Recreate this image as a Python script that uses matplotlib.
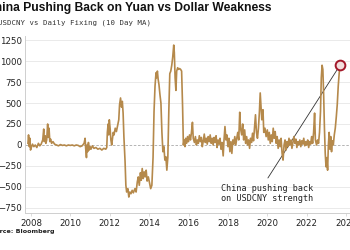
import matplotlib
matplotlib.use("Agg")
import matplotlib.pyplot as plt

# USDCNY vs daily fixing spread (10 day MA)
years = [
    2007.85, 2007.88, 2007.92, 2007.95, 2007.98, 2008.02, 2008.08, 2008.15, 2008.22, 2008.3,
    2008.38, 2008.45, 2008.52, 2008.6, 2008.65, 2008.68, 2008.72, 2008.76, 2008.8, 2008.85,
    2008.88, 2008.92, 2008.96, 2009.0, 2009.05, 2009.12, 2009.2, 2009.3, 2009.4, 2009.5,
    2009.6, 2009.7, 2009.8, 2009.9, 2010.0, 2010.1, 2010.2, 2010.3, 2010.4, 2010.5,
    2010.6, 2010.7, 2010.75, 2010.78, 2010.82, 2010.85, 2010.88, 2010.92, 2010.96, 2011.0,
    2011.05, 2011.12, 2011.2, 2011.3, 2011.4, 2011.5, 2011.6, 2011.7, 2011.8, 2011.85,
    2011.88, 2011.92, 2011.95, 2011.98, 2012.02, 2012.06, 2012.1, 2012.14, 2012.18, 2012.22,
    2012.28, 2012.34, 2012.4, 2012.46, 2012.5, 2012.55, 2012.6, 2012.64, 2012.68, 2012.72,
    2012.78, 2012.82, 2012.86, 2012.92, 2012.97, 2013.02, 2013.08, 2013.14, 2013.2, 2013.28,
    2013.34, 2013.4, 2013.45, 2013.5, 2013.56, 2013.6, 2013.65, 2013.7, 2013.75, 2013.8,
    2013.85, 2013.9, 2013.96, 2014.02, 2014.08, 2014.14, 2014.2, 2014.25, 2014.3, 2014.35,
    2014.38, 2014.42, 2014.46, 2014.5, 2014.55, 2014.6, 2014.65, 2014.7, 2014.75, 2014.8,
    2014.85, 2014.9, 2014.95, 2015.0, 2015.05, 2015.1, 2015.15, 2015.2, 2015.25, 2015.28,
    2015.32, 2015.36, 2015.4, 2015.45, 2015.5, 2015.55, 2015.6, 2015.65, 2015.7, 2015.74,
    2015.78, 2015.82, 2015.86, 2015.9, 2015.95, 2016.0, 2016.05, 2016.1, 2016.15, 2016.2,
    2016.24, 2016.3, 2016.35, 2016.4, 2016.45, 2016.5, 2016.55, 2016.6, 2016.65, 2016.7,
    2016.75, 2016.8, 2016.85, 2016.9, 2016.95, 2017.0, 2017.05, 2017.1, 2017.15, 2017.2,
    2017.25, 2017.3, 2017.35, 2017.4, 2017.45, 2017.5, 2017.55, 2017.6, 2017.65, 2017.7,
    2017.76, 2017.8, 2017.85, 2017.9, 2017.95, 2018.0, 2018.05, 2018.1, 2018.15, 2018.2,
    2018.25, 2018.3, 2018.35, 2018.4, 2018.45, 2018.5, 2018.55, 2018.6, 2018.64, 2018.7,
    2018.75, 2018.8, 2018.85, 2018.9, 2018.95, 2019.0, 2019.05, 2019.1, 2019.15, 2019.2,
    2019.25, 2019.3, 2019.35, 2019.4, 2019.45, 2019.5, 2019.55, 2019.6, 2019.64, 2019.68,
    2019.72, 2019.78, 2019.82, 2019.88, 2019.94, 2020.0, 2020.05, 2020.1, 2020.15, 2020.2,
    2020.25, 2020.3, 2020.35, 2020.4, 2020.45, 2020.5, 2020.55, 2020.6, 2020.65, 2020.7,
    2020.75, 2020.8, 2020.85, 2020.9, 2020.95, 2021.0, 2021.05, 2021.1, 2021.15, 2021.2,
    2021.25, 2021.3, 2021.35, 2021.4, 2021.45, 2021.5, 2021.55, 2021.6, 2021.65, 2021.7,
    2021.75, 2021.8, 2021.85, 2021.9, 2021.95, 2022.0, 2022.05, 2022.1, 2022.15, 2022.2,
    2022.25, 2022.3, 2022.35, 2022.4, 2022.44, 2022.5, 2022.55, 2022.6, 2022.65, 2022.7,
    2022.74, 2022.78, 2022.82, 2022.86, 2022.9, 2022.94, 2022.98, 2023.02, 2023.06, 2023.1,
    2023.14, 2023.18, 2023.22, 2023.26, 2023.3, 2023.35, 2023.4, 2023.45, 2023.5, 2023.55,
    2023.6, 2023.65, 2023.69,
]
spread = [
    20, 120, -20, 80, -60, -30, 10, -20, 0, -30,
    20, -10, 10, 60, 190, 40, 110, 20, 60, 250,
    90, 200, 40, 70, 20, 40, 10, 0, -10, 5,
    -5, 0, -10, 0, -5, 0, -10, 0, -5, -20,
    -10, 20, 80, -40, -150, 0, -80, 30, -60, -20,
    -50, -10, -40, -30, -50, -40, -60, -40, -50, -30,
    150, 250, 120, 300, 200, 60, 0, 80, 150, 120,
    200, 160, 230, 300, 480, 560, 450, 520, 380, 100,
    -200, -480, -560, -520, -620, -560, -580, -540, -570, -520,
    -560, -440, -380, -480, -330, -420, -280, -400, -320, -380,
    -300, -430, -380, -450, -520, -480, -150, 400, 700, 860,
    800, 880, 780, 720, 600, 500, 150, -80, -20, -180,
    -140, -300, -150, 400, 850, 880, 950, 1050, 1190, 1100,
    800, 650, 880, 920, 900, 910, 900, 880, 450, 0,
    60, -20, 80, 20, 100, 40, 120, 60, 150, 270,
    80, 30, 100, 0, 60, 20, 110, 40, 90, -20,
    50, 130, 30, 80, 10, 100, 40, 120, 20, 80,
    0, 90, 30, 110, -30, 60, 10, 80, -50, 30,
    -130, 50, 220, 60, 120, -20, 80, -80, 40, -100,
    60, 10, 100, 0, 80, 150, 60, 390, 200, 120,
    250, 60, 180, 20, 100, 0, 60, -40, 80, 30,
    140, 50, 200, 360, 150, 80, 200, 400, 620, 450,
    300, 420, 150, 200, 100, 180, 60, 150, 20, 120,
    40, 200, 80, 160, 20, 100, -40, 60, -20, 80,
    -100, -180, 0, 60, -60, 40, -20, 80, 0, 60,
    -40, 30, 100, 20, 70, -30, 40, 0, 60, -20,
    50, 10, 80, -10, 40, 0, 60, -30, 40, 10,
    100, 20, 150, 380, 60, 0, 60, 20, 150, 400,
    800, 950, 900, 600, 200, -100, -260, -150, -300, 0,
    150, -50, 100, -80, 50, 0, 120, 200, 330, 480,
    700, 860, 950,
]
y_ticks = [-750, -500, -250, 0, 250, 500, 750, 1000, 1250]
x_ticks = [2008, 2010, 2012, 2014, 2016, 2018, 2020, 2022, 2024]

W, H = 350, 250
fig = plt.figure(figsize=(3.5, 2.5), dpi=100)
ax = fig.add_axes([25 / W, 1 - 213 / H, 330 / W, (213 - 36) / H])

line_color = "#b5894b"
ax.plot(years, spread, color=line_color, lw=1.2, zorder=3)

# highlight latest reading
ax.plot(years[-1], spread[-1], "o", ms=7, mfc="#f3dede", mec="#a3182a",
        mew=1.4, zorder=4)

ax.set_xlim(2007.7, 2007.7 + 330 / 19.7)
ax.set_ylim(-810, 1298)
ax.set_yticks(y_ticks)
ax.set_xticks(x_ticks)
ax.set_xticklabels([str(t) for t in x_ticks])

for v in y_ticks:
    if v == 0:
        ax.axhline(v, color="#a8a8a8", lw=0.6, ls=(0, (3, 2)), zorder=1)
    else:
        ax.axhline(v, color="#e6e6e6", lw=0.6, zorder=1)

for s in ["top", "right"]:
    ax.spines[s].set_visible(False)
for s in ["left", "bottom"]:
    ax.spines[s].set_color("#cfcfcf")
    ax.spines[s].set_linewidth(0.7)

ax.tick_params(axis="y", length=0, pad=2, labelsize=6.2, labelcolor="#222222")
ax.tick_params(axis="x", length=2, width=0.5, color="#cfcfcf", pad=2,
               labelsize=6.2, labelcolor="#222222")

# annotation
ax.annotate("", xy=(years[-1], spread[-1]), xytext=(2020.03, -393),
            arrowprops=dict(arrowstyle="-", color="#333333", lw=0.6,
                            shrinkA=0, shrinkB=3), zorder=2)
ax.text(2019.98, -577, "China pushing back\non USDCNY strength",
        ha="center", va="center", fontsize=6.1, family="DejaVu Sans Mono",
        color="#222222", linespacing=1.1)

# title block (cropped at the left edge like the original)
fig.text(272 / W, 1 - 8 / H, "China Pushing Back on Yuan vs Dollar Weakness",
         ha="right", va="center", fontsize=8.75, fontweight="bold",
         family="Liberation Sans", color="#111111")
fig.text(151 / W, 1 - 23 / H, "USDCNY vs Daily Fixing (10 Day MA)",
         ha="right", va="center", fontsize=5.35, family="DejaVu Sans Mono",
         color="#333333")
fig.text(55 / W, 1 - 232 / H, "Source: Bloomberg", ha="right", va="center",
         fontsize=4.6, fontweight="bold", color="#222222")

fig.savefig("out.png", dpi=100, facecolor="white")
